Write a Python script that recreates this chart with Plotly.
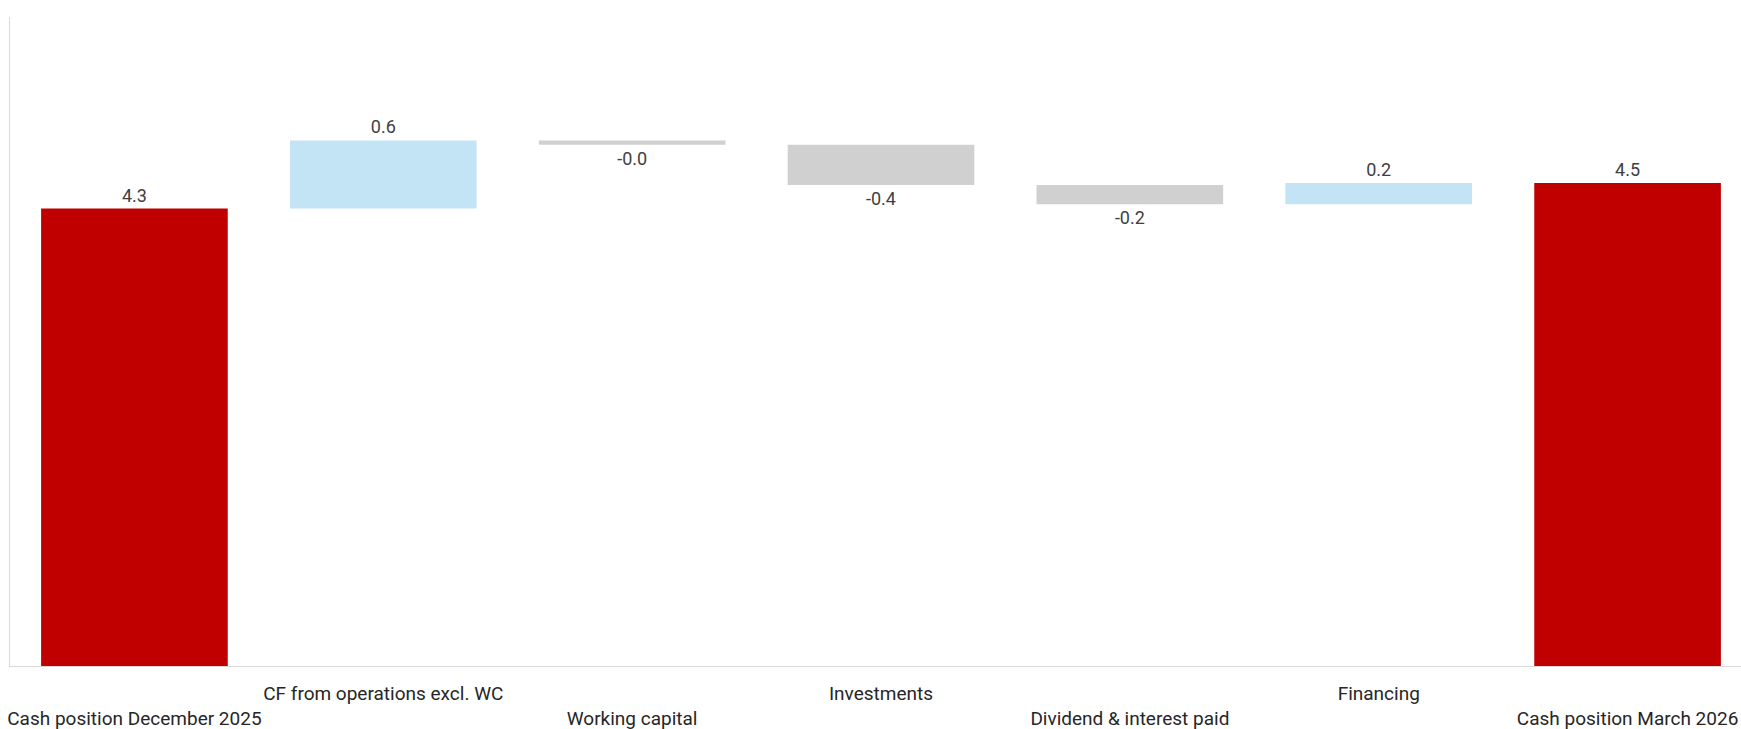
import plotly.graph_objects as go

categories = [
    "Cash position December 2025",
    "CF from operations excl. WC",
    "Working capital",
    "Investments",
    "Dividend & interest paid",
    "Financing",
    "Cash position March 2026",
]
start_cash = 4.30
deltas = [0.64, -0.04, -0.38, -0.18, 0.20]
measures = ["absolute"] + ["relative"] * len(deltas) + ["total"]

end_cash = start_cash + sum(deltas)
values = [start_cash] + deltas + [0]
labels = [f"{v:.1f}" for v in [start_cash] + deltas + [end_cash]]

# staggered category labels (odd ones on the upper line, even ones on the lower line)
ticktext = [c if i % 2 == 1 else "<br>" + c for i, c in enumerate(categories)]

font_family = "Roboto, 'Liberation Sans', Arial, sans-serif"

fig = go.Figure(
    go.Waterfall(
        x=categories,
        y=values,
        measure=measures,
        text=labels,
        textposition="outside",
        textfont=dict(size=18, color="#404040", family=font_family),
        increasing=dict(marker=dict(color="#C2E4F4")),
        decreasing=dict(marker=dict(color="#D0D0D0")),
        totals=dict(marker=dict(color="#C00000")),
        connector=dict(visible=False),
        cliponaxis=False,
    )
)

fig.update_layout(
    width=1752,
    height=729,
    margin=dict(l=10, r=0, t=17, b=63),
    paper_bgcolor="white",
    plot_bgcolor="white",
    showlegend=False,
    waterfallgap=0.25,
    font=dict(family=font_family, size=19, color="#262626"),
)
fig.update_xaxes(
    tickmode="array",
    tickvals=categories,
    ticktext=ticktext,
    tickangle=0,
    automargin=False,
    showline=True,
    linecolor="#D9D9D9",
    linewidth=1,
    ticks="",
    ticklabelstandoff=10,
    showgrid=False,
    tickfont=dict(size=19, color="#262626", family=font_family),
)
fig.update_yaxes(
    range=[0, 6.1],
    automargin=False,
    showline=True,
    linecolor="#D9D9D9",
    linewidth=1,
    showticklabels=False,
    ticks="",
    showgrid=False,
    zeroline=False,
)

fig.write_html(
    "out.html",
    config={"displayModeBar": False},
    post_script="document.body.style.margin='0';document.body.style.overflow='hidden';",
)
